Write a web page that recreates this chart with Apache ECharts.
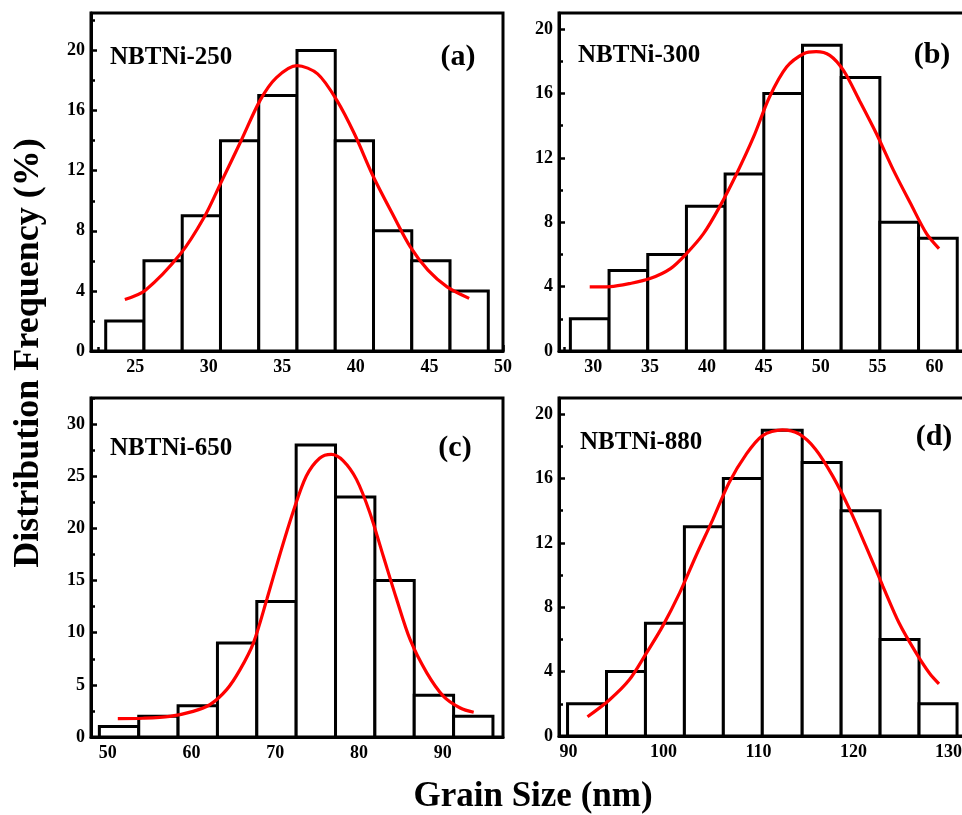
<!DOCTYPE html>
<html>
<head>
<meta charset="utf-8">
<script src="https://cdn.jsdelivr.net/npm/echarts@6/dist/echarts.min.js"></script>
<style>
  html, body { margin: 0; padding: 0; background: #ffffff; }
  #chart { width: 962px; height: 815px; }
</style>
</head>
<body>
<div id="chart"></div>
<script>
// ---- Grain size histograms (bin edges in nm, counts in %) ----
const edgesA = [23, 25.6, 28.2, 30.8, 33.4, 36, 38.6, 41.2, 43.8, 46.4, 49];
const countsA = [2, 6, 9, 14, 17, 20, 14, 8, 6, 4];
const edgesB = [28, 31.4, 34.8, 38.2, 41.6, 45, 48.4, 51.8, 55.2, 58.6, 62];
const countsB = [2, 5, 6, 9, 11, 16, 19, 17, 8, 7];
const edgesC = [49, 53.7, 58.4, 63.1, 67.8, 72.5, 77.2, 81.9, 86.6, 91.3, 96];
const countsC = [1, 2, 3, 9, 13, 28, 23, 15, 4, 2];
const edgesD = [89.9, 94.0, 98.1, 102.2, 106.3, 110.4, 114.6, 118.7, 122.8, 126.9, 130.9];
const countsD = [2, 4, 7, 13, 16, 19, 17, 14, 6, 2];

// ---- Fitted distribution curves, sampled points [size, frequency] ----
const fitA = [[24.3,3.43],[25.7,4.05],[28.1,6.49],[29.7,8.92],[30.8,11.14],[32.2,14.0],[33.5,16.7],[34.6,18.2],[36.0,19.0],[37.4,18.45],[38.7,16.7],[39.9,14.46],[41.2,11.58],[42.6,8.92],[43.7,6.93],[44.9,5.38],[46.2,4.27],[47.7,3.5]];
const fitB = [[29.7,3.98],[31.5,4.0],[33.2,4.19],[35.0,4.5],[36.8,5.12],[38.2,6.05],[39.7,7.29],[41.1,8.94],[42.6,11.0],[44.1,13.3],[45.5,15.78],[47.0,17.64],[48.5,18.47],[49.6,18.6],[50.8,18.37],[52.0,17.43],[53.4,15.57],[54.9,13.5],[56.4,11.22],[57.9,9.16],[59.3,7.29],[60.4,6.36]];
const fitC = [[51.2,1.76],[54.2,1.8],[57.4,1.98],[60.2,2.46],[62.2,3.1],[64.2,4.54],[65.8,6.46],[67.4,9.03],[69.0,13.2],[70.5,17.35],[72.1,21.5],[73.7,25.0],[75.3,26.73],[76.7,27.1],[78.1,26.5],[79.7,24.7],[81.3,21.5],[82.9,17.35],[84.5,13.2],[86.1,9.35],[88.1,6.15],[90.1,3.9],[92.1,2.78],[93.7,2.37]];
const fitD = [[92.0,1.2],[94.3,2.24],[96.4,3.49],[98.2,5.15],[99.9,6.81],[101.7,8.89],[103.4,11.17],[105.2,13.46],[106.9,15.74],[108.7,17.5],[110.4,18.65],[112.5,19.02],[114.3,18.75],[116.0,17.82],[117.8,16.16],[119.6,14.08],[121.3,11.8],[123.1,9.3],[124.8,7.02],[126.6,5.15],[128.0,3.9],[129.0,3.24]];

// ---- Tick labels ----
const xTicksA = [25, 30, 35, 40, 45, 50];
const xMinorA = [22.5, 27.5, 32.5, 37.5, 42.5, 47.5];
const yTicksA = [0, 4, 8, 12, 16, 20];
const yMinorA = [2, 6, 10, 14, 18, 22];
const xTicksB = [30, 35, 40, 45, 50, 55, 60];
const xMinorB = [27.5, 32.5, 37.5, 42.5, 47.5, 52.5, 57.5, 62.5];
const yTicksB = [0, 4, 8, 12, 16, 20];
const yMinorB = [2, 6, 10, 14, 18];
const xTicksC = [50, 60, 70, 80, 90];
const xMinorC = [55, 65, 75, 85, 95];
const yTicksC = [0, 5, 10, 15, 20, 25, 30];
const yMinorC = [2.5, 7.5, 12.5, 17.5, 22.5, 27.5, 32.5];
const xTicksD = [90, 100, 110, 120, 130];
const xMinorD = [95, 105, 115, 125];
const yTicksD = [0, 4, 8, 12, 16, 20];
const yMinorD = [2, 6, 10, 14, 18];

// ---- Panel names ----
const sampleNames = ['NBTNi-250', 'NBTNi-300', 'NBTNi-650', 'NBTNi-880'];
const panelTags = ['(a)', '(b)', '(c)', '(d)'];
const xTitle = 'Grain Size (nm)';
const yTitle = 'Distribution Frequency (%)';

const SERIF = '"Liberation Serif", "Times New Roman", serif';

// Layout of each panel (pixels) and its axis extents
const panels = [
  { edges: edgesA, counts: countsA, fit: fitA, xT: xTicksA, xM: xMinorA, yT: yTicksA, yM: yMinorA,
    grid: { left: 91, top: 13, width: 412, height: 338 }, xMin: 22, xMax: 50, yMax: 22.5,
    name: { x: 110, y: 58 }, tag: { x: 458, y: 57 } },
  { edges: edgesB, counts: countsB, fit: fitB, xT: xTicksB, xM: xMinorB, yT: yTicksB, yM: yMinorB,
    grid: { left: 559, top: 13, width: 421, height: 338 }, xMin: 27, xMax: 64, yMax: 21,
    name: { x: 578, y: 56 }, tag: { x: 932, y: 55 } },
  { edges: edgesC, counts: countsC, fit: fitC, xT: xTicksC, xM: xMinorC, yT: yTicksC, yM: yMinorC,
    grid: { left: 91, top: 398, width: 412, height: 339 }, xMin: 48, xMax: 97.2, yMax: 32.5,
    name: { x: 110, y: 449 }, tag: { x: 455, y: 448 } },
  { edges: edgesD, counts: countsD, fit: fitD, xT: xTicksD, xM: xMinorD, yT: yTicksD, yM: yMinorD,
    grid: { left: 559, top: 398, width: 418, height: 338 }, xMin: 89, xMax: 133, yMax: 21,
    name: { x: 580, y: 443 }, tag: { x: 934, y: 437 } }
];

const grids = [], xAxes = [], yAxes = [], series = [], graphics = [];

const labelStyle = { fontFamily: SERIF, fontWeight: 'bold', fontSize: 18, color: '#000' };

panels.forEach((p, i) => {
  grids.push(Object.assign({
    show: true, borderColor: '#000', borderWidth: 3, backgroundColor: 'transparent',
    containLabel: false, outerBoundsMode: 'none'
  }, p.grid));

  // main axes: line, major ticks and labels
  xAxes.push({
    type: 'value', gridIndex: i, position: 'bottom', min: p.xMin, max: p.xMax,
    axisLine: { show: true, onZero: false, lineStyle: { color: '#000', width: 3 } },
    axisTick: { show: true, inside: true, length: 6, lineStyle: { color: '#000', width: 2.5 }, customValues: p.xT },
    axisLabel: Object.assign({ show: true, margin: 7, customValues: p.xT }, labelStyle),
    splitLine: { show: false }
  });
  // minor ticks on the same side
  xAxes.push({
    type: 'value', gridIndex: i, position: 'bottom', offset: 0, min: p.xMin, max: p.xMax,
    axisLine: { show: false, onZero: false },
    axisTick: { show: true, inside: true, length: 4, lineStyle: { color: '#000', width: 2.5 }, customValues: p.xM },
    axisLabel: { show: false },
    splitLine: { show: false }
  });
  yAxes.push({
    type: 'value', gridIndex: i, position: 'left', min: 0, max: p.yMax,
    axisLine: { show: true, onZero: false, lineStyle: { color: '#000', width: 3 } },
    axisTick: { show: true, inside: true, length: 6, lineStyle: { color: '#000', width: 2.5 }, customValues: p.yT },
    axisLabel: Object.assign({ show: true, margin: 6, customValues: p.yT }, labelStyle),
    splitLine: { show: false }
  });
  yAxes.push({
    type: 'value', gridIndex: i, position: 'left', offset: 0, min: 0, max: p.yMax,
    axisLine: { show: false, onZero: false },
    axisTick: { show: true, inside: true, length: 4, lineStyle: { color: '#000', width: 2.5 }, customValues: p.yM },
    axisLabel: { show: false },
    splitLine: { show: false }
  });

  // histogram bars
  const barData = p.counts.map((c, k) => [p.edges[k], p.edges[k + 1], c]);
  series.push({
    type: 'custom', xAxisIndex: 2 * i, yAxisIndex: 2 * i, z: 2,
    data: barData,
    encode: { x: [0, 1], y: 2 },
    renderItem: function (params, api) {
      const topLeft = api.coord([api.value(0), api.value(2)]);
      const bottomRight = api.coord([api.value(1), 0]);
      return {
        type: 'rect',
        shape: { x: topLeft[0], y: topLeft[1], width: bottomRight[0] - topLeft[0], height: bottomRight[1] - topLeft[1] },
        style: { fill: '#ffffff', stroke: '#000000', lineWidth: 3 }
      };
    }
  });

  // fitted curve
  series.push({
    type: 'line', xAxisIndex: 2 * i, yAxisIndex: 2 * i, z: 3,
    data: p.fit, smooth: 0.3, showSymbol: false, symbol: 'none',
    lineStyle: { color: '#ff0000', width: 3.2 }
  });

  graphics.push({
    type: 'text', x: p.name.x, y: p.name.y, z: 10,
    style: { text: sampleNames[i], font: 'bold 25px ' + SERIF, fill: '#000', align: 'left', verticalAlign: 'middle' }
  });
  graphics.push({
    type: 'text', x: p.tag.x, y: p.tag.y, z: 10,
    style: { text: panelTags[i], font: 'bold 30px ' + SERIF, fill: '#000', align: 'center', verticalAlign: 'middle' }
  });
});

graphics.push({
  type: 'text', x: 533, y: 797,
  style: { text: xTitle, font: 'bold 35px ' + SERIF, fill: '#000', align: 'center', verticalAlign: 'middle' }
});
graphics.push({
  type: 'text', x: 29, y: 353, rotation: Math.PI / 2,
  style: { text: yTitle, font: 'bold 36px ' + SERIF, fill: '#000', align: 'center', verticalAlign: 'middle' }
});

const chart = echarts.init(document.getElementById('chart'), null, { renderer: 'canvas' });
chart.setOption({
  animation: false,
  backgroundColor: '#ffffff',
  grid: grids,
  xAxis: xAxes,
  yAxis: yAxes,
  series: series,
  graphic: graphics
});
</script>
</body>
</html>
